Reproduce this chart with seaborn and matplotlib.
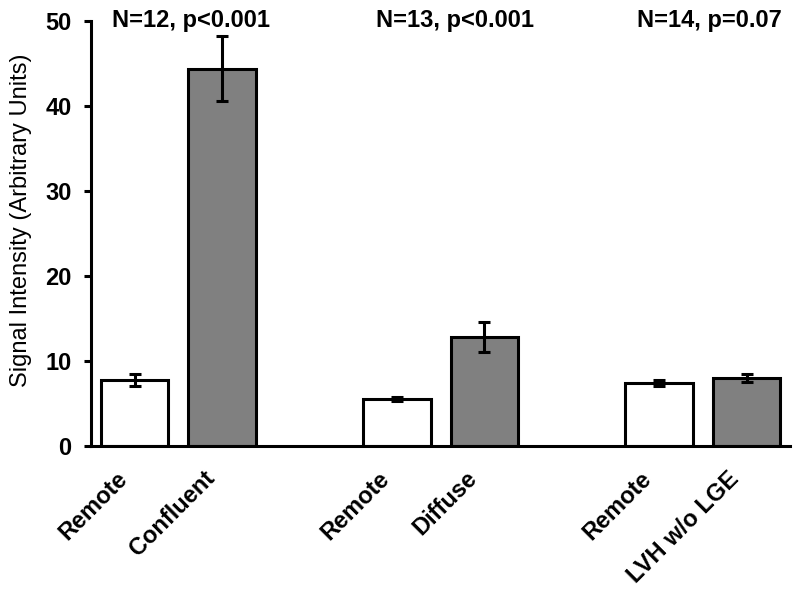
import numpy as np
import pandas as pd
import seaborn as sns
import matplotlib.pyplot as plt
import matplotlib.transforms as mtransforms

# ----------------------------- DATA -------------------------------------------
keys = ['remote_1', 'confluent', 'remote_2', 'diffuse', 'remote_3', 'lvh']
kinds = ['Remote', 'Lesion', 'Remote', 'Lesion', 'Remote', 'Lesion']
tick_labels = ['Remote', 'Confluent', 'Remote', 'Diffuse', 'Remote', 'LVH w/o LGE']
means = [7.8, 44.4, 5.5, 12.8, 7.4, 8.0]
errors = [0.7, 3.8, 0.25, 1.8, 0.35, 0.5]

# empty slots between the three comparisons
order = ['remote_1', 'confluent', 'gap_1', 'remote_2', 'diffuse', 'gap_2', 'remote_3', 'lvh']

group_notes = ['N=12, p<0.001', 'N=13, p<0.001', 'N=14, p=0.07']
note_x = [0.64, 3.66, 6.57]

df = pd.DataFrame({'key': keys, 'kind': kinds, 'mean': means, 'err': errors})

# ----------------------------- PLOT -------------------------------------------
sns.set_style('ticks')
plt.rcParams['font.family'] = ['Liberation Sans', 'DejaVu Sans']
plt.rcParams.update({
    'text.color': 'black',
    'axes.labelcolor': 'black',
    'axes.edgecolor': 'black',
    'xtick.color': 'black',
    'ytick.color': 'black',
})

fig = plt.figure(figsize=(8, 6.01), dpi=100)
ax = fig.add_axes([0.11375, 0.2579, 0.874, 0.7072])

sns.barplot(
    data=df,
    x='key',
    y='mean',
    hue='kind',
    order=order,
    palette={'Remote': 'white', 'Lesion': '#808080'},
    dodge=False,
    width=0.77,
    edgecolor='black',
    linewidth=2.2,
    errorbar=None,
    legend=False,
    ax=ax,
)

# error bars at the category positions used by seaborn
pos = [order.index(k) for k in keys]
ax.errorbar(
    pos, means, yerr=errors,
    fmt='none', ecolor='black', elinewidth=2.2, capsize=4, capthick=2.2, zorder=5,
)

for x, note in zip(note_x, group_notes):
    ax.text(x, 49.3, note, ha='center', va='baseline', fontsize=17, fontweight='bold')

ax.set_xlim(-0.5, 7.5)
ax.set_ylim(0, 50)
ax.set_yticks(np.arange(0, 51, 10))
ax.tick_params(axis='y', length=5, width=2.2, pad=9, labelsize=17)
for lbl in ax.get_yticklabels():
    lbl.set_fontweight('bold')

ax.set_xticks(pos)
ax.set_xticklabels(tick_labels, rotation=45, ha='right', va='top',
                   rotation_mode='anchor', fontsize=17, fontweight='bold')
ax.tick_params(axis='x', length=0, pad=15)
shift = mtransforms.ScaledTranslation(-14 / 72, 0, fig.dpi_scale_trans)
for lbl in ax.get_xticklabels():
    lbl.set_transform(lbl.get_transform() + shift)

ax.set_xlabel('')
ax.set_ylabel('Signal Intensity (Arbitrary Units)', fontsize=17)
ax.yaxis.set_label_coords(-0.084, 0.532)

sns.despine(ax=ax)
for side in ['left', 'bottom']:
    ax.spines[side].set_linewidth(2.2)

fig.savefig('out.png', dpi=100)
